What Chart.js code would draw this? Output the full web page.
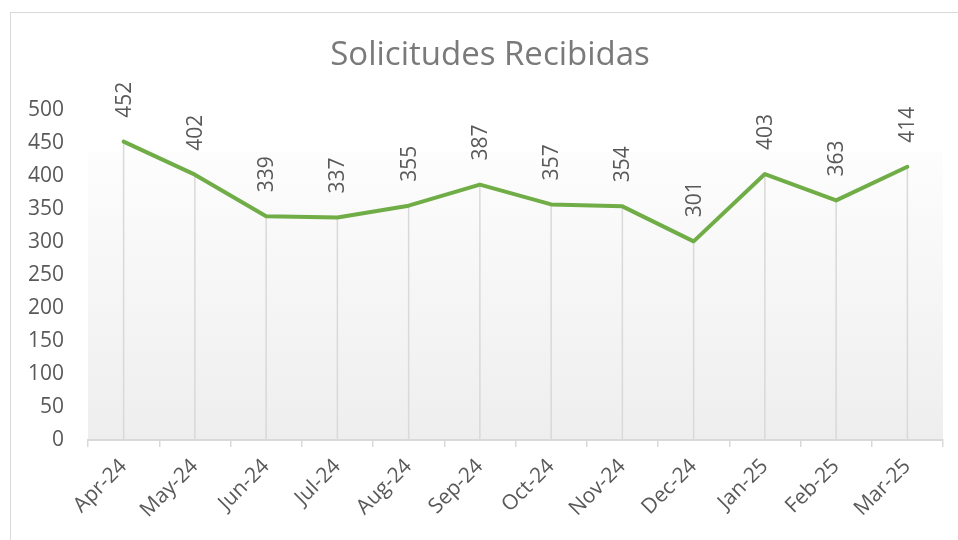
<!DOCTYPE html>
<html>
<head>
<meta charset="utf-8">
<script src="https://cdn.jsdelivr.net/npm/chart.js@4.4.0/dist/chart.umd.min.js"></script>
<style>
  html, body { margin:0; padding:0; background:#ffffff; overflow:hidden; }
  #wrap { position:relative; width:958px; height:540px; }
  #frame { position:absolute; left:10px; top:12px; width:2000px; height:2000px; border:1px solid #d9d9d9; box-sizing:border-box; pointer-events:none; }
  canvas { position:absolute; left:0; top:0; }
</style>
</head>
<body>
<div id="wrap">
  <canvas id="c" width="958" height="540"></canvas>
  <div id="frame"></div>
</div>
<script>
const chartTitle = "Solicitudes Recibidas";
const months = ["Apr-24","May-24","Jun-24","Jul-24","Aug-24","Sep-24","Oct-24","Nov-24","Dec-24","Jan-25","Feb-25","Mar-25"];
const requests = [452, 402, 339, 337, 355, 387, 357, 354, 301, 403, 363, 414];
const yMin = 0;
const yMax = 500;
const yStep = 50;

const FONT = "'Open Sans', 'DejaVu Sans', sans-serif";
const TEXT = "#595959";
const GRID = "#d9d9d9";

const backdrop = {
  id: "backdrop",
  beforeDraw(chart) {
    const { ctx, chartArea: a } = chart;
    const top = a.top + 42;
    const g = ctx.createLinearGradient(0, top, 0, a.bottom);
    g.addColorStop(0, "#fdfdfd");
    g.addColorStop(1, "#eeeeee");
    ctx.save();
    ctx.fillStyle = g;
    ctx.fillRect(a.left, top, a.right - a.left, a.bottom - top);
    ctx.restore();
  },
  beforeDatasetsDraw(chart) {
    const { ctx } = chart;
    const meta = chart.getDatasetMeta(0);
    const yBase = chart.scales.y.getPixelForValue(yMin);
    ctx.save();
    ctx.strokeStyle = GRID;
    ctx.lineWidth = 1.5;
    meta.data.forEach(p => {
      ctx.beginPath();
      ctx.moveTo(p.x, p.y);
      ctx.lineTo(p.x, yBase);
      ctx.stroke();
    });
    ctx.restore();
  },
  afterDatasetsDraw(chart) {
    const { ctx } = chart;
    const meta = chart.getDatasetMeta(0);
    const vals = chart.data.datasets[0].data;
    ctx.save();
    ctx.fillStyle = TEXT;
    ctx.font = "21px " + FONT;
    ctx.textAlign = "left";
    ctx.textBaseline = "middle";
    meta.data.forEach((p, i) => {
      ctx.save();
      ctx.translate(p.x, p.y - 24);
      ctx.rotate(-Math.PI / 2);
      ctx.fillText(String(vals[i]), 0, 1);
      ctx.restore();
    });
    // title
    ctx.fillStyle = "#7a7a7a";
    ctx.font = "33px " + FONT;
    ctx.textAlign = "center";
    ctx.textBaseline = "middle";
    ctx.fillText(chartTitle, 490, 56);
    ctx.restore();
  }
};

new Chart(document.getElementById("c"), {
  type: "line",
  data: {
    labels: months,
    datasets: [{
      label: chartTitle,
      data: requests,
      borderColor: "#70ad47",
      backgroundColor: "#70ad47",
      borderWidth: 4,
      pointRadius: 0,
      tension: 0,
      borderCapStyle: "round",
      borderJoinStyle: "round"
    }]
  },
  options: {
    responsive: false,
    animation: false,
    devicePixelRatio: 1,
    layout: { padding: { left: 0, right: 15, top: 110, bottom: 0 } },
    plugins: {
      legend: { display: false },
      title: { display: false },
      tooltip: { enabled: false }
    },
    scales: {
      x: {
        offset: true,
        grid: { display: true, offset: true, drawOnChartArea: false, drawTicks: true, tickLength: 7, color: GRID, lineWidth: 1.5 },
        border: { display: true, color: GRID, width: 2 },
        ticks: { color: TEXT, font: { family: FONT, size: 21 }, maxRotation: 45, minRotation: 45, padding: 7, autoSkip: false },
        afterFit(s) { s.height = 100; }
      },
      y: {
        min: yMin,
        max: yMax,
        grid: { display: false, drawTicks: false },
        border: { display: false },
        ticks: { stepSize: yStep, color: TEXT, font: { family: FONT, size: 21 }, padding: 24 },
        afterFit(s) { s.width = 88; }
      }
    }
  },
  plugins: [backdrop]
});
</script>
</body>
</html>
